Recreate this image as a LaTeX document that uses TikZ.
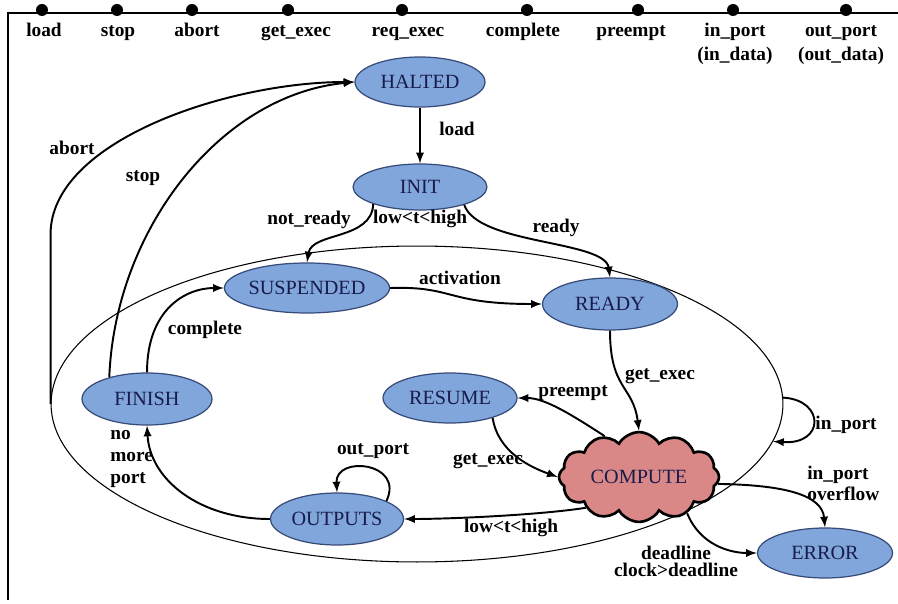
\documentclass[tikz,border=0pt]{standalone}
\usepackage{fontspec}
\setmainfont{Liberation Serif}
\usepackage{tikz}
\usetikzlibrary{arrows,shapes,shapes.symbols}
\definecolor{statefill}{RGB}{128,166,220}
\definecolor{stateline}{RGB}{55,75,120}
\definecolor{statetext}{RGB}{25,28,75}
\definecolor{cloudfill}{RGB}{217,135,135}
\tikzstyle{state}=[ellipse,draw=stateline,fill=statefill,line width=0.7pt,minimum width=2.64cm,minimum height=1cm,inner sep=0pt,text=statetext,font=\fontsize{11.5}{13}\selectfont]
\tikzstyle{cloudstate}=[cloud,cloud puffs=12,cloud puff arc=120,aspect=1.9,draw=black,line width=1.5pt,fill=cloudfill,minimum width=3.2cm,minimum height=1.7cm,inner sep=0pt,text=statetext,font=\fontsize{11.5}{13}\selectfont]
\tikzstyle{port}=[circle,fill=black,minimum size=0.24cm,inner sep=0pt]
\tikzstyle{lbl}=[font=\bfseries\fontsize{11}{13}\selectfont,inner sep=0pt,text height=5pt,text depth=0pt]
\tikzstyle{lbls}=[font=\bfseries\fontsize{11}{12.5}\selectfont,inner sep=0pt]
\tikzstyle{trans}=[->,>=latex,line width=1.1pt]

\begin{document}
\begin{tikzpicture}[x=0.02cm,y=-0.02cm]
		\useasboundingbox (0,0) rectangle (898,604);
		% frame
		\draw[line width=1.1pt] (8,600) -- (8,13) -- (898,13);
		% ports
		\node[port] (p-load) at (42,10) {};
		\node[port] (p-stop) at (117,10) {};
		\node[port] (p-abort) at (192,10) {};
		\node[port] (p-getexec) at (288,10) {};
		\node[port] (p-reqexec) at (402,10) {};
		\node[port] (p-complete) at (527,10) {};
		\node[port] (p-preempt) at (638,10) {};
		\node[port] (p-inport) at (733,10) {};
		\node[port] (p-outport) at (846,10) {};
		\node[lbl] (t-load) at (44,32) {load};
		\node[lbl] (t-stop) at (118,32) {stop};
		\node[lbl] (t-abort) at (197,32) {abort};
		\node[lbl] (t-getexec) at (296,32) {get\_exec};
		\node[lbl] (t-reqexec) at (408,32) {req\_exec};
		\node[lbl] (t-complete) at (523,32) {complete};
		\node[lbl] (t-preempt) at (631,32) {preempt};
		\node[lbl] (t-inport) at (735,32) {in\_port};
		\node[lbl] (t-indata) at (735,56) {(in\_data)};
		\node[lbl] (t-outport) at (841,32) {out\_port};
		\node[lbl] (t-outdata) at (841,56) {(out\_data)};

		% superstate
		\node[ellipse,draw,line width=0.6pt,minimum width=14.64cm,minimum height=6.32cm,inner sep=0pt] (sys) at (417,404) {};

		% states
		\node[state,minimum width=2.6cm] (halted) at (420,82) {HALTED};
		\node[state,minimum width=2.68cm,minimum height=0.92cm] (init) at (420,187) {INIT};
		\node[state] (susp) at (307,288) {SUSPENDED};
		\node[state,minimum width=2.7cm,minimum height=1.04cm] (ready) at (610,304) {READY};
		\node[state,minimum width=2.68cm] (resume) at (450,398) {RESUME};
		\node[state,minimum width=2.6cm,minimum height=1.04cm] (finish) at (147,399) {FINISH};
		\node[state,minimum width=2.66cm,minimum height=1.04cm] (outputs) at (337,519) {OUTPUTS};
		\node[state,minimum width=2.7cm] (error) at (825,553) {ERROR};
		\node[cloudstate] (compute) at (639,477) {COMPUTE};

		% transitions
		\draw[trans] (sys.west) -- ++(0,-170) .. controls (51,140) and (230,82) .. (halted.west);
		\draw[trans] (finish.150) .. controls (115,230) and (220,95) .. (halted.west);
		\draw[trans] (finish.north) .. controls (147,310) and (185,288) .. (susp.west);
		\draw[trans] (halted) -- (init);
		\draw[trans] (init.200) .. controls (372,240) and (312,232) .. (susp.north);
		\draw[trans] (init.-22) .. controls (478,245) and (605,240) .. (ready.north);
		\draw[trans] (susp.east) .. controls (455,286) and (445,304) .. (ready.west);
		\draw[trans] (ready.south) .. controls (610,390) and (633,385) .. (compute.north);
		\draw[trans] (compute.130) .. controls (572,415) and (545,398) .. (resume.east);
		\draw[trans] (resume.-25) .. controls (498,452) and (530,467) .. (compute.west);
		\draw[trans] (compute.-150) .. controls (540,515) and (450,519) .. (outputs.east);
		\draw[trans] (outputs.20) .. controls (405,462) and (335,455) .. (outputs.north);
		\draw[trans] (outputs.west) .. controls (200,519) and (150,480) .. (finish.south);
		\draw[trans] (sys.1) .. controls (825,400) and (825,445) .. (sys.-6);
		\draw[trans] (compute.-5) .. controls (785,485) and (822,495) .. (error.north);
		\draw[trans] (compute.-37) .. controls (700,545) and (730,553) .. (error.west);

		% labels
		\node[lbl] (l-abort) at (72,150) {abort};
		\node[lbl] (l-stop) at (143,177) {stop};
		\node[lbl] (l-load) at (457,131) {load};
		\node[lbl] (l-notready) at (309,220) {not\_ready};
		\node[lbl] (l-init) at (420,219) {low<t<high};
		\node[lbl] (l-ready) at (556,228) {ready};
		\node[lbl] (l-activation) at (460,280) {activation};
		\node[lbl] (l-complete) at (205,330) {complete};
		\node[lbl] (l-getexec) at (660,375) {get\_exec};
		\node[lbl] (l-preempt) at (573,392) {preempt};
		\node[lbl] (l-getexec2) at (488,460) {get\_exec};
		\node[lbl] (l-inport) at (846,425) {in\_port};
		\node[lbl] (l-outport) at (373,450) {out\_port};
		\node[lbls,align=left,anchor=west] (l-nomore) at (110,459) {no\\more\\port};
		\node[lbl] (l-lowhigh) at (511,528) {low<t<high};
		\node[lbls,align=left,anchor=west] (l-overflow) at (807,483) {in\_port\\[-0.6pt]overflow};
		\node[lbls,align=center,font=\bfseries\fontsize{11}{9.6}\selectfont] (l-deadline) at (676,561) {deadline\\clock>deadline};
	\end{tikzpicture}
\end{document}
